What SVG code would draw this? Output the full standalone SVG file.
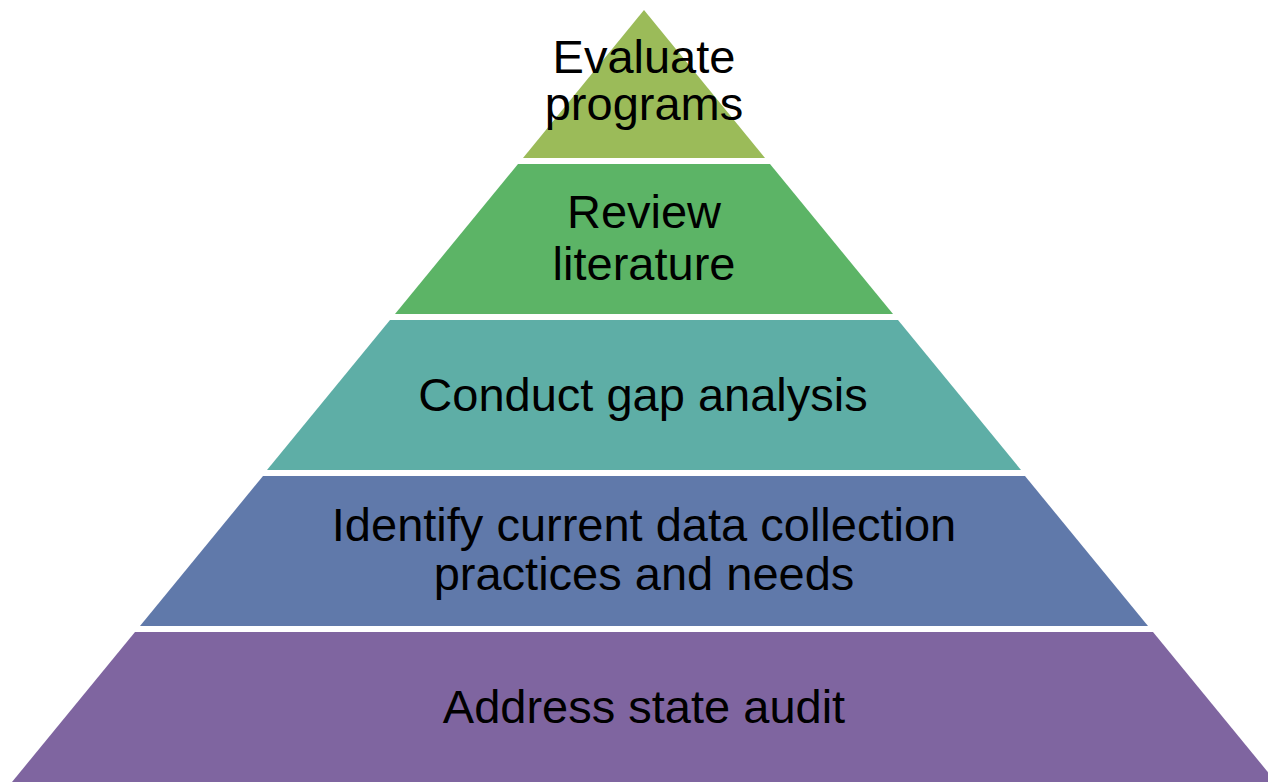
<svg xmlns="http://www.w3.org/2000/svg" width="1268" height="782" viewBox="0 0 1268 782">
<style>
text{font-family:"Liberation Sans",Arial,sans-serif;font-size:47px;fill:#000;text-anchor:middle}
</style>
<rect width="1268" height="782" fill="#fff"/>
<g id="layer1">
<polygon points="644,10 765,158 523,158" fill="#9bbb59"/>
<text x="644" y="73">Evaluate</text>
<text x="644" y="120">programs</text>
</g>
<g id="layer2">
<polygon points="518,164 770,164 893,314 395,314" fill="#5cb466"/>
<text x="644" y="228">Review</text>
<text x="644" y="280">literature</text>
</g>
<g id="layer3">
<polygon points="390,320 898,320 1021,470 267,470" fill="#5eaea6"/>
<text x="643" y="411">Conduct gap analysis</text>
</g>
<g id="layer4">
<polygon points="263,476 1025,476 1148,626 140,626" fill="#6079aa"/>
<text x="644" y="541">Identify current data collection</text>
<text x="644" y="590">practices and needs</text>
</g>
<g id="layer5">
<polygon points="135,632 1153,632 1276,782 12,782" fill="#7f65a0"/>
<text x="644" y="723">Address state audit</text>
</g>
<g id="connectors"/>
</svg>
